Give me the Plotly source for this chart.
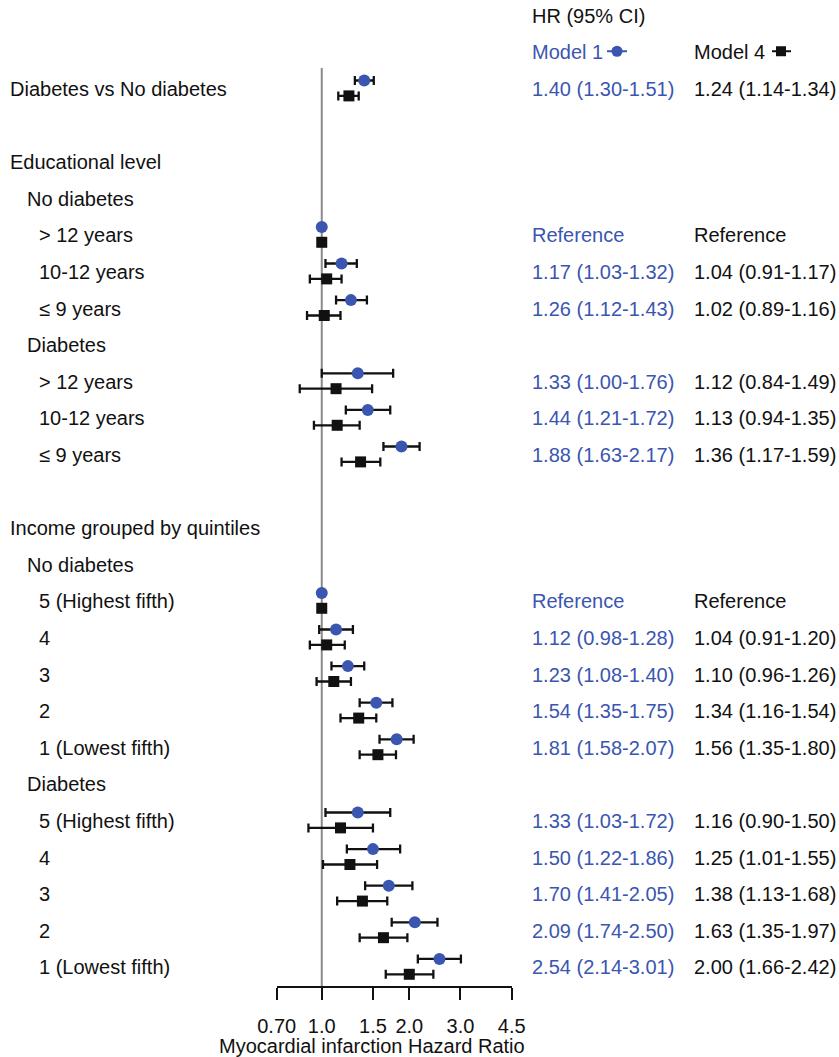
import math
import plotly.graph_objects as go

# ---------------- data ----------------
row_labels = ["Diabetes vs No diabetes", "Educational level", "No diabetes", "> 12 years",
              "10-12 years", "≤ 9 years", "Diabetes", "> 12 years", "10-12 years", "≤ 9 years",
              "Income grouped by quintiles", "No diabetes", "5 (Highest fifth)", "4", "3", "2",
              "1 (Lowest fifth)", "Diabetes", "5 (Highest fifth)", "4", "3", "2", "1 (Lowest fifth)"]
label_rows = [0, 2, 3, 4, 5, 6, 7, 8, 9, 10, 12, 13, 14, 15, 16, 17, 18, 19, 20, 21, 22, 23, 24]
label_indent = [0, 0, 1, 2, 2, 2, 1, 2, 2, 2, 0, 1, 2, 2, 2, 2, 2, 1, 2, 2, 2, 2, 2]

est_rows = [0, 4, 5, 6, 8, 9, 10, 14, 15, 16, 17, 18, 20, 21, 22, 23, 24]
is_reference = [False, True, False, False, False, False, False, True, False, False, False, False,
                False, False, False, False, False]
m1_hr = [1.40, 1.00, 1.17, 1.26, 1.33, 1.44, 1.88, 1.00, 1.12, 1.23, 1.54, 1.81, 1.33, 1.50, 1.70, 2.09, 2.54]
m1_lo = [1.30, 1.00, 1.03, 1.12, 1.00, 1.21, 1.63, 1.00, 0.98, 1.08, 1.35, 1.58, 1.03, 1.22, 1.41, 1.74, 2.14]
m1_hi = [1.51, 1.00, 1.32, 1.43, 1.76, 1.72, 2.17, 1.00, 1.28, 1.40, 1.75, 2.07, 1.72, 1.86, 2.05, 2.50, 3.01]
m4_hr = [1.24, 1.00, 1.04, 1.02, 1.12, 1.13, 1.36, 1.00, 1.04, 1.10, 1.34, 1.56, 1.16, 1.25, 1.38, 1.63, 2.00]
m4_lo = [1.14, 1.00, 0.91, 0.89, 0.84, 0.94, 1.17, 1.00, 0.91, 0.96, 1.16, 1.35, 0.90, 1.01, 1.13, 1.35, 1.66]
m4_hi = [1.34, 1.00, 1.17, 1.16, 1.49, 1.35, 1.59, 1.00, 1.20, 1.26, 1.54, 1.80, 1.50, 1.55, 1.68, 1.97, 2.42]

tick_vals = [0.7, 1.0, 1.5, 2.0, 3.0, 4.5]
tick_text = ["0.70", "1.0", "1.5", "2.0", "3.0", "4.5"]

# ---------------- style ----------------
W, H = 839, 1057
BLUE = "#3a56b0"
BLACK = "#111111"
FONT = "Liberation Sans, Arial, sans-serif"
FS = 20
C_OFF, S_OFF = -0.23, 0.19

fig = go.Figure()

ci_idx = [i for i, r in enumerate(is_reference) if not r]
ref_idx = [i for i, r in enumerate(is_reference) if r]

def add_model(hr, lo, hi, off, color, symbol, size, name):
    fig.add_trace(go.Scatter(
        x=[hr[i] for i in ci_idx], y=[est_rows[i] + off for i in ci_idx],
        mode="markers", name=name,
        marker=dict(symbol=symbol, size=size, color=color),
        error_x=dict(type="data", symmetric=False,
                     array=[hi[i] - hr[i] for i in ci_idx],
                     arrayminus=[hr[i] - lo[i] for i in ci_idx],
                     color=BLACK, thickness=2.3, width=4.5),
        showlegend=False, cliponaxis=False))
    fig.add_trace(go.Scatter(
        x=[hr[i] for i in ref_idx], y=[est_rows[i] + off for i in ref_idx],
        mode="markers", marker=dict(symbol=symbol, size=size, color=color),
        showlegend=False, cliponaxis=False))

add_model(m4_hr, m4_lo, m4_hi, S_OFF, BLACK, "square", 11, "Model 4")
add_model(m1_hr, m1_lo, m1_hi, C_OFF, BLUE, "circle", 12, "Model 1")

# reference line at HR = 1
fig.add_shape(type="line", xref="x", yref="y", x0=1, x1=1, y0=-0.57, y1=24.51,
              line=dict(color="#8a8a8a", width=2), layer="below")

ann = []
indent_px = [8, 25, 37]
for lab, r, ind in zip(row_labels, label_rows, label_indent):
    ann.append(dict(text=lab, x=indent_px[ind] / W, xref="paper", y=r, yref="y",
                    xanchor="left", yanchor="middle", showarrow=False,
                    font=dict(family=FONT, size=FS, color=BLACK)))

def fmt(h, l, u, ref):
    return "Reference" if ref else f"{h:.2f} ({l:.2f}-{u:.2f})"

X1, X4 = 530, 692
for i, r in enumerate(est_rows):
    ann.append(dict(text=fmt(m1_hr[i], m1_lo[i], m1_hi[i], is_reference[i]),
                    x=X1 / W, xref="paper", y=r, yref="y", xanchor="left", yanchor="middle",
                    showarrow=False, font=dict(family=FONT, size=FS, color=BLUE)))
    ann.append(dict(text=fmt(m4_hr[i], m4_lo[i], m4_hi[i], is_reference[i]),
                    x=X4 / W, xref="paper", y=r, yref="y", xanchor="left", yanchor="middle",
                    showarrow=False, font=dict(family=FONT, size=FS, color=BLACK)))

# header
ann.append(dict(text="HR (95% CI)", x=X1 / W, xref="paper", y=-2, yref="y", xanchor="left",
                yanchor="middle", showarrow=False, font=dict(family=FONT, size=FS, color=BLACK)))
ann.append(dict(text="Model 1", x=X1 / W, xref="paper", y=-1, yref="y", xanchor="left",
                yanchor="middle", showarrow=False, font=dict(family=FONT, size=FS, color=BLUE)))
ann.append(dict(text="Model 4", x=X4 / W, xref="paper", y=-1, yref="y", xanchor="left",
                yanchor="middle", showarrow=False, font=dict(family=FONT, size=FS, color=BLACK)))

# legend icons
fig.add_shape(type="line", xref="paper", yref="y", x0=607 / W, x1=627 / W, y0=-1.03, y1=-1.03,
              line=dict(color=BLUE, width=2))
fig.add_shape(type="circle", xref="paper", yref="y", xsizemode="pixel", ysizemode="pixel",
              xanchor=617 / W, yanchor=-1.03, x0=-5.5, x1=5.5, y0=-5.5, y1=5.5,
              fillcolor=BLUE, line=dict(width=0))
fig.add_shape(type="line", xref="paper", yref="y", x0=772 / W, x1=791 / W, y0=-1.03, y1=-1.03,
              line=dict(color=BLACK, width=2))
fig.add_shape(type="rect", xref="paper", yref="y", xsizemode="pixel", ysizemode="pixel",
              xanchor=781 / W, yanchor=-1.03, x0=-5, x1=5, y0=-5, y1=5,
              fillcolor=BLACK, line=dict(width=0))

# axis title
ann.append(dict(text="Myocardial infarction Hazard Ratio", x=371.5 / W, xref="paper",
                y=-0.0605, yref="paper", xanchor="center", yanchor="middle", showarrow=False,
                font=dict(family=FONT, size=FS, color=BLACK)))

fig.update_layout(
    width=W, height=H, margin=dict(l=0, r=0, t=0, b=71, pad=0, autoexpand=False),
    plot_bgcolor="white", paper_bgcolor="white",
    annotations=ann,
    xaxis=dict(type="log", range=[math.log10(0.7), math.log10(4.5)],
               domain=[276.7 / W, 511.7 / W], automargin=False,
               tickvals=tick_vals, ticktext=tick_text, ticks="outside", ticklen=12, tickwidth=2,
               tickcolor=BLACK, showline=True, linecolor=BLACK, linewidth=2, showgrid=False,
               zeroline=False, ticklabelstandoff=9,
               tickfont=dict(family=FONT, size=FS, color=BLACK)),
    yaxis=dict(range=[24.51, -2.43], visible=False, showgrid=False, zeroline=False,
               automargin=False),
)

fig.write_html("out.html")
